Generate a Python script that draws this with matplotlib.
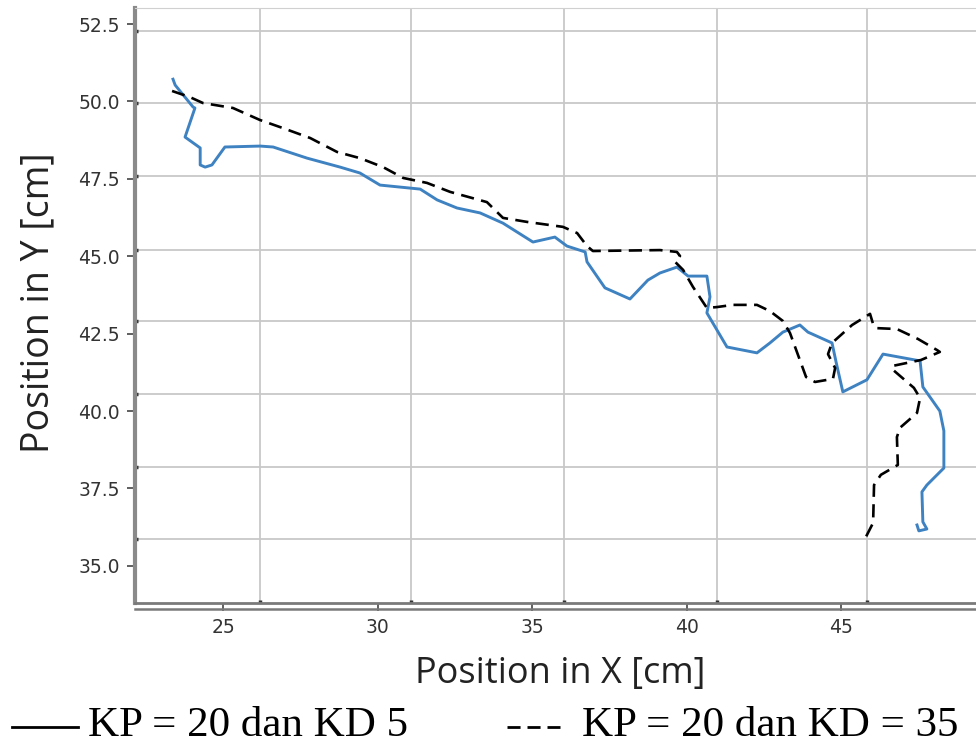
import numpy as np
import matplotlib.pyplot as plt
from matplotlib.lines import Line2D

# trajectoire KP = 20, KD = 5 (trait plein)
x_kd5 = [23.38, 23.45, 24.03, 24.09, 23.77, 24.26, 24.26, 24.42, 24.64, 25.06,
         26.20, 26.62, 27.72, 28.79, 29.43, 30.08, 31.38, 31.93, 32.57, 33.32,
         34.06, 35.03, 35.74, 36.13, 36.72, 36.78, 37.36, 38.17, 38.75, 39.14,
         39.69, 40.05, 40.66, 40.76, 40.66, 41.31, 42.28, 42.70, 43.12, 43.67,
         43.93, 44.71, 44.84, 45.06, 45.84, 46.36, 47.56, 47.65, 48.20, 48.33,
         48.33, 47.78, 47.62, 47.65, 47.78, 47.52, 47.46]
y_kd5 = [50.72, 50.53, 49.82, 49.79, 48.85, 48.50, 47.95, 47.88, 47.95, 48.53,
         48.56, 48.53, 48.17, 47.88, 47.69, 47.30, 47.17, 46.82, 46.56, 46.40,
         46.07, 45.46, 45.62, 45.33, 45.14, 44.82, 43.98, 43.62, 44.23, 44.46,
         44.65, 44.36, 44.36, 43.69, 43.17, 42.07, 41.88, 42.20, 42.55, 42.78,
         42.55, 42.20, 41.59, 40.62, 41.01, 41.84, 41.62, 40.78, 40.00, 39.36,
         38.16, 37.61, 37.39, 36.42, 36.19, 36.13, 36.32]

# trajectoire KP = 20, KD = 35 (pointillés)
x_kd35 = [23.35, 23.93, 24.35, 25.32, 26.20, 26.94, 27.82, 28.69, 29.43, 30.18,
          30.83, 31.60, 32.35, 33.54, 34.06, 34.84, 36.00, 36.46, 36.78, 36.97,
          39.14, 39.69, 39.79, 39.63, 39.89, 40.21, 40.66, 40.99, 41.50, 42.28,
          42.70, 43.12, 43.35, 43.87, 44.16, 44.74, 44.81, 44.58, 44.71, 45.36,
          45.94, 46.04, 46.13, 46.81, 47.49, 48.11, 48.20, 47.59, 46.68, 46.65,
          47.36, 47.56, 47.46, 46.91, 46.81, 46.84, 46.29, 46.07, 46.04, 45.81]
y_kd35 = [50.34, 50.14, 49.95, 49.79, 49.40, 49.14, 48.82, 48.37, 48.17, 47.88,
          47.53, 47.37, 47.08, 46.75, 46.24, 46.11, 45.95, 45.75, 45.33, 45.17,
          45.20, 45.14, 45.01, 44.82, 44.56, 44.01, 43.33, 43.36, 43.43, 43.43,
          43.23, 42.91, 42.52, 41.10, 40.94, 41.04, 41.39, 41.84, 42.20, 42.78,
          43.14, 42.81, 42.68, 42.65, 42.33, 41.97, 41.91, 41.65, 41.46, 41.36,
          40.75, 40.42, 39.94, 39.46, 39.16, 38.26, 37.94, 37.61, 36.39, 35.94]

x_ticks = [25, 30, 35, 40, 45]
y_ticks = [35.0, 37.5, 40.0, 42.5, 45.0, 47.5, 50.0, 52.5]
# la grille de l'image d'origine est décalée par rapport aux graduations
x_grid = [26.20, 31.08, 36.04, 40.99, 45.84]
y_grid = [35.87, 38.20, 40.55, 42.91, 45.20, 47.59, 49.95, 52.27]

fig = plt.figure(figsize=(9.76, 7.46), dpi=100)
ax = fig.add_axes([135/976, 1 - 603/746, 1 - 135/976, (603 - 8)/746])

ax.plot(x_kd5, y_kd5, color='#3f82c2', lw=2.1, solid_joinstyle='round')
ax.plot(x_kd35, y_kd35, color='black', lw=1.9, dashes=(5, 2.8))

ax.set_xlim(22.15, 49.37)
ax.set_ylim(33.80, 53.02)

ax.set_xticks(x_ticks)
ax.set_yticks(y_ticks)
ax.set_yticklabels([f'{v:.1f}' for v in y_ticks])
ax.set_xticks(x_grid, minor=True)
ax.set_yticks(y_grid, minor=True)
ax.grid(which='minor', color='#c8c8c8', lw=1.3)
ax.grid(which='major', visible=False)

ax.tick_params(which='major', length=6, width=1.2, color='#444', pad=5,
               labelsize=13.5, labelcolor='#333')
ax.tick_params(which='minor', length=2, width=2.5, color='#333', direction='in')

ax.spines['right'].set_visible(False)
ax.spines['top'].set_color('#d0d0d0')
ax.spines['left'].set_color('#8a8a8a')
ax.spines['left'].set_linewidth(3)
ax.spines['bottom'].set_color('#7a7a7a')
ax.spines['bottom'].set_linewidth(2)
fig.add_artist(Line2D([135/976, 1], [1 - 609/746, 1 - 609/746],
                      color='#7a7a7a', lw=1.8))

ax.set_xlabel('Position in X [cm]', fontsize=26, family='Open Sans', color='#222')
ax.set_ylabel('Position in Y [cm]', fontsize=27, family='Open Sans', color='#222')
ax.xaxis.set_label_coords(0.505, -0.12)
ax.xaxis.label.set_va('center')
ax.yaxis.set_label_coords(-0.115, 0.505)
ax.yaxis.label.set_va('center')

# légende manuelle sous le graphique
serif = ['Liberation Serif', 'DejaVu Serif']
y_leg = 1 - 727/746
fig.add_artist(Line2D([12/976, 78/976], [y_leg, y_leg], color='black', lw=2))
fig.add_artist(Line2D([507/976, 560/976], [y_leg, y_leg], color='black', lw=2,
                      dashes=(4.7, 2.5)))
fig.text(88/976, 1 - 736/746, 'KP = 20 dan KD 5', fontsize=31,
         family=serif, va='baseline', ha='left')
fig.text(958/976, 1 - 736/746, 'KP = 20 dan KD = 35', fontsize=31,
         family=serif, va='baseline', ha='right')

fig.savefig('out.png', dpi=100)
